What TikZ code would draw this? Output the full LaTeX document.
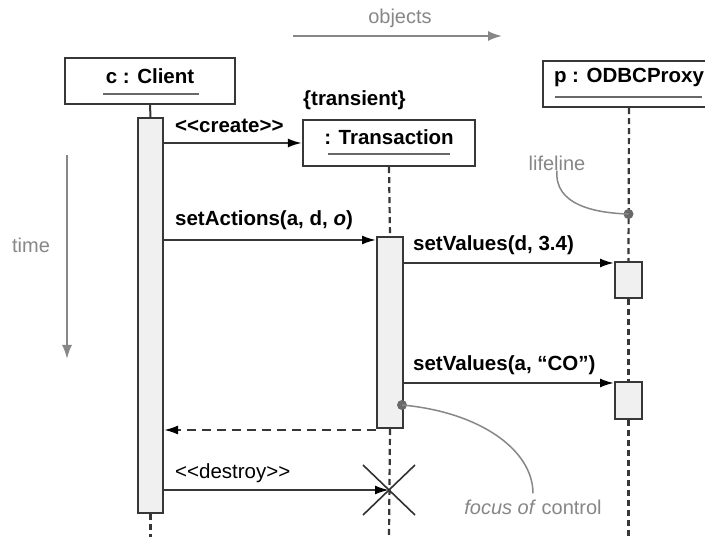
\documentclass[tikz,border=0pt]{standalone}
\usepackage{fontspec}
\setmainfont{Liberation Sans}
\usetikzlibrary{arrows.meta,calc}
\definecolor{ln}{RGB}{55,55,55}
\definecolor{annot}{RGB}{135,135,135}
\definecolor{dotc}{RGB}{105,105,105}
\definecolor{actfill}{RGB}{240,240,240}
\begin{document}
\begin{tikzpicture}[x=1pt,y=-1pt,
  font=\fontsize{20.5}{24}\selectfont\bfseries,
  objbox/.style={draw=ln, line width=2.2pt, fill=white, inner sep=0pt},
  actbar/.style={draw=ln, line width=2pt, fill=actfill, inner sep=0pt},
  lbl/.style={inner sep=0pt, text=black},
  annottxt/.style={inner sep=0pt, text=annot, font=\fontsize{20}{24}\selectfont\mdseries},
  ulinestyle/.style={draw=ln!75, line width=2.2pt},
  lifesolid/.style={draw=ln, line width=2pt},
  lifedash/.style={draw=ln, line width=2.2pt, dash pattern=on 6pt off 4pt},
  msg/.style={draw=ln, line width=2pt, -{Latex[length=14pt,width=9pt,color=black]}},
  ret/.style={draw=ln, line width=2pt, dash pattern=on 9pt off 6pt, -{Latex[length=14pt,width=9pt,color=black]}},
  guide/.style={draw=annot, line width=2pt, -{Latex[length=14pt,width=10pt]}},
  annotline/.style={draw=annot, line width=1.5pt},
  dotnode/.style={circle, fill=dotc, inner sep=0pt, minimum size=10pt},
  crossline/.style={draw=ln!90!black, line width=1.6pt}
]
\useasboundingbox (0,0) rectangle (705,537);
\clip (0,0) rectangle (705,537);
\fill[white] (0,0) rectangle (705,537);

% guides
\node[annottxt] (objlbl) at (400,18) {objects};
\coordinate (objA) at (293,36);
\coordinate (objB) at (502,36);
\draw[guide] (objA) -- (objB);
\node[annottxt] (timelbl) at (31,245) {time};
\coordinate (timeA) at (67,155);
\coordinate (timeB) at (67,359);
\draw[guide] (timeA) -- (timeB);

% object boxes
\node[objbox, minimum width=170pt, minimum height=46pt] (client) at (150,81) {};
\node[lbl] (clientlbl) at (150,76) {c : Client};
\draw[ulinestyle] (103,94) -- (199,94);

\node[lbl, anchor=west] (transient) at (303,100) {\{transient\}};
\node[objbox, minimum width=172pt, minimum height=46pt] (trans) at (389,143) {};
\node[lbl] (translbl) at (389,137) {: Transaction};
\draw[ulinestyle] (328,154) -- (450,154);

\node[objbox, minimum width=172pt, minimum height=46pt] (proxy) at (629,84) {};
\node[lbl] (proxylbl) at (629,77) {p : ODBCProxy};
\draw[ulinestyle] (555,97) -- (702,97);

% lifeline ends
\coordinate (cend) at (150.5,537);
\coordinate (tend) at (389,537);
\coordinate (pend) at (628.5,537);

% activation bars
\node[actbar, minimum width=25pt, minimum height=395pt] (cbar) at (150.5,315.5) {};
\node[actbar, minimum width=26pt, minimum height=191pt] (tbar) at (390,332.5) {};
\node[actbar, minimum width=27pt, minimum height=36pt] (p1) at (628.5,280) {};
\node[actbar, minimum width=27pt, minimum height=37pt] (p2) at (628.5,400.5) {};
\coordinate (xmark) at (389,490);

% lifelines
\draw[lifesolid] (client.south) -- (cbar.north);
\draw[lifedash] (cbar.south) -- (cend);
\draw[lifedash] (trans.south) -- (tbar.north);
\draw[lifedash] (tbar.south) -- (tend);
\draw[lifedash] (proxy.south) -- (p1.north);
\draw[lifedash] (p1.south) -- (p2.north);
\draw[lifedash] (p2.south) -- (pend);

% messages
\draw[msg] (cbar.east |- trans.west) -- (trans.west);
\node[lbl, anchor=west] (createlbl) at (175,126) {<\kern0pt<create>\kern0pt>};

\draw[msg] (cbar.east |- 0,240) -- (tbar.west |- 0,240);
\node[lbl, anchor=west] (setactlbl) at (175,220) {setActions(a, d, \textit{o})};

\draw[msg] (tbar.east |- 0,263) -- (p1.west |- 0,263);
\node[lbl, anchor=west] (sv1lbl) at (413,245) {setValues(d, 3.4)};

\draw[msg] (tbar.east |- 0,383) -- (p2.west |- 0,383);
\node[lbl, anchor=west] (sv2lbl) at (413,365) {setValues(a, “CO”)};

\draw[ret] (tbar.west |- 0,430) -- (cbar.east |- 0,430);

\draw[msg] (cbar.east |- xmark) -- (xmark);
\node[lbl, anchor=west, font=\fontsize{20.5}{24}\selectfont\mdseries] (destroylbl) at (175,473) {<\kern0pt<destroy>\kern0pt>};

% destruction mark
\draw[crossline] ($(xmark)+(-26,-25)$) -- ($(xmark)+(26,25)$);
\draw[crossline] ($(xmark)+(-26,25)$) -- ($(xmark)+(26,-25)$);

% annotations
\node[annottxt] (lifelinelbl) at (557,163) {lifeline};
\node[dotnode] (lldot) at (628.5,214) {};
\draw[annotline] (lifelinelbl.south) .. controls (554,205) and (595,213) .. (lldot.center);

\node[annottxt] (foclbl) at (533,507) {\textit{focus of} control};
\node[dotnode] (fdot) at (402,405) {};
\draw[annotline] (fdot.center) .. controls (480,412) and (533,450) .. ($(foclbl.north)+(0,-6)$);
\end{tikzpicture}
\end{document}
